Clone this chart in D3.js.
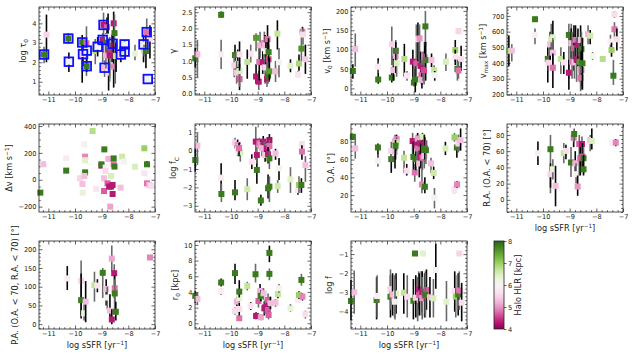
<!DOCTYPE html>
<html><head><meta charset="utf-8">
<script src="https://cdn.jsdelivr.net/npm/d3@7"></script>
<style>body{margin:0;background:#fff}svg{display:block}text{font-family:"DejaVu Sans",sans-serif}</style>
</head><body><svg id="c" width="634" height="357"></svg>
<script>
// rows: [log sSFR, value, lower bound, upper bound, halo HLR (kpc)] ; tau0 has extra flag (1 = highlighted subsample)
const xTicks = [-11, -10, -9, -8, -7];
const hlrTicks = [4, 5, 6, 7, 8];
const tau0 = [
[-11.07,3.42,2.0,4.45,5.5,0],[-11.16,2.4,1.95,2.8,7.8,1],[-10.23,2.03,1.5,2.5,6.0,1],[-10.25,3.22,2.95,3.5,7.8,1],
[-9.73,3.02,0.95,3.4,7.8,1],[-9.57,2.98,1.3,3.85,4.8,0],[-9.7,2.42,1.8,2.9,5.5,1],[-9.56,2.6,2.2,3.0,6.0,1],
[-9.56,1.8,1.5,2.2,7.8,1],[-9.24,2.58,1.9,3.2,6.8,0],[-9.15,2.8,2.3,3.3,6.0,1],[-8.93,3.92,2.2,4.55,4.3,1],
[-8.8,3.8,3.2,4.3,4.7,0],[-8.96,3.15,2.0,3.5,4.3,1],[-8.84,3.05,2.4,3.5,7.8,0],[-8.89,1.72,1.25,2.1,5.3,1],
[-8.74,1.47,0.55,2.3,5.7,0],[-8.84,2.35,1.7,2.9,5.2,0],[-8.76,3.32,2.8,4.5,6.0,0],[-8.59,2.95,2.3,3.5,6.0,1],
[-8.61,2.85,2.0,3.4,4.2,0],[-8.7,2.55,1.0,3.0,4.4,0],[-8.55,4.0,2.5,4.6,4.3,0],[-8.52,3.5,2.8,4.45,7.8,0],
[-8.55,1.78,0.7,2.5,4.9,0],[-8.49,2.35,0.9,3.1,7.8,0],[-8.46,2.32,1.5,3.0,6.6,0],[-8.7,2.35,1.2,3.3,4.3,0],
[-8.28,2.4,2.0,2.8,5.5,1],[-8.14,2.55,2.2,2.9,6.5,1],[-8.14,2.92,2.6,3.1,6.0,1],[-7.75,2.45,2.1,2.9,6.3,0],
[-7.43,2.92,2.0,3.4,6.0,1],[-7.41,2.62,2.3,2.9,6.7,0],[-7.34,2.58,1.7,3.5,7.8,0],[-7.31,3.55,2.6,4.25,4.8,1],
[-7.19,3.22,2.2,3.9,5.6,0],[-7.27,1.14,1.0,1.3,6.0,1]];
const gamma = [
[-11.34,1.08,0.8,1.4,7.8],[-11.26,1.2,0.5,1.65,5.3],[-10.37,2.42,2.33,2.52,7.8],[-10.37,1.2,0.75,1.65,5.9],
[-9.85,1.18,0.6,1.5,7.8],[-9.88,0.86,0.5,1.2,5.5],[-9.75,0.91,0.55,1.35,6.2],[-9.79,0.64,0.3,1.0,5.4],
[-9.68,0.44,0.1,0.9,4.7],[-9.68,0.69,0.2,1.1,6.5],[-9.68,1.2,0.7,1.6,5.6],[-9.26,1.22,0.95,1.5,5.7],
[-9.39,0.97,0.45,1.35,6.7],[-9.06,1.71,1.3,1.85,7.5],[-9.06,0.52,0.3,0.9,4.3],[-8.96,0.36,0.1,0.7,4.3],
[-8.94,0.97,0.4,1.5,4.8],[-8.91,1.48,1.1,1.9,5.2],[-8.81,0.96,0.6,1.3,4.3],[-8.75,1.55,1.1,1.9,4.8],
[-8.72,1.48,1.2,1.8,5.3],[-8.72,0.8,0.3,1.2,5.6],[-8.69,1.3,0.9,1.7,6.0],[-8.65,0.44,0.2,1.1,4.3],
[-8.63,1.67,1.2,2.1,4.8],[-8.59,1.05,0.7,1.5,4.6],[-8.59,1.27,0.8,1.7,7.8],[-8.61,0.55,0.3,1.0,7.8],
[-8.56,0.68,0.4,1.1,7.5],[-8.33,0.68,0.35,1.0,5.3],[-8.26,1.84,1.35,2.25,6.7],[-8.2,0.96,0.5,1.4,6.0],
[-7.77,0.85,0.65,1.05,6.4],[-7.49,0.58,0.5,0.7,5.7],[-7.45,0.92,0.7,1.2,6.9],[-7.36,1.38,1.0,1.75,7.6],
[-7.32,1.9,1.75,2.05,4.9],[-7.3,1.81,1.5,2.0,5.6],[-7.21,1.05,0.6,1.5,5.4]];
const v0 = [
[-11.28,45,25,62,7.8],[-11.19,101,56,142,5.3],[-10.33,23,12,78,7.8],[-10.34,56,40,70,5.8],
[-9.82,28,15,55,7.8],[-9.82,114,60,160,5.5],[-9.76,47,20,85,5.3],[-9.67,84,45,125,5.2],
[-9.67,97,40,120,7.8],[-9.64,65,30,105,6.5],[-9.35,76,30,115,6.8],[-9.25,33,20,45,5.7],
[-9.03,69,20,100,4.3],[-8.99,15,5,50,7.8],[-8.94,23,-10,60,7.8],[-8.9,65,30,165,4.7],
[-8.84,127,70,170,5.7],[-8.78,129,60,165,5.0],[-8.74,58,20,95,4.3],[-8.71,34,10,75,4.8],
[-8.69,22,0,40,5.2],[-8.65,52,20,95,4.3],[-8.59,80,40,120,4.8],[-8.56,160,110,200,7.8],
[-8.55,73,20,120,7.8],[-8.61,47,10,90,4.6],[-8.33,73,55,90,5.3],[-8.23,47,30,60,6.7],
[-8.21,34,20,45,6.0],[-7.79,69,45,90,6.5],[-7.44,99,70,125,7.0],[-7.36,50,20,80,7.8],
[-7.44,82,60,100,5.7],[-7.32,148,140,155,5.5],[-7.22,76,45,110,5.6],[-7.32,46,25,70,4.8]];
const vmax = [
[-11.28,477,380,575,6.8],[-11.17,479,410,520,5.3],[-10.3,679,665,695,7.8],[-10.3,579,520,620,5.9],
[-9.82,426,275,500,7.8],[-9.8,402,350,450,5.5],[-9.73,519,420,600,5.3],[-9.69,551,450,650,6.6],
[-9.63,564,480,670,6.4],[-9.63,466,380,560,5.3],[-9.63,370,240,460,4.8],[-9.33,426,330,500,6.7],
[-9.22,404,330,470,5.7],[-9.03,579,300,650,7.8],[-9.03,338,230,420,4.3],[-8.94,564,430,650,7.8],
[-8.94,526,400,620,5.3],[-8.91,408,300,600,4.8],[-8.84,494,350,640,4.7],[-8.82,404,300,500,5.3],
[-8.78,547,400,640,4.8],[-8.74,423,280,560,4.3],[-8.69,515,380,620,4.3],[-8.63,408,280,540,7.5],
[-8.59,547,400,640,5.3],[-8.56,489,230,600,7.8],[-8.56,355,250,480,4.8],[-8.59,306,220,420,4.8],
[-8.52,398,230,560,7.8],[-8.31,583,520,640,5.2],[-8.23,574,520,610,6.6],[-8.14,445,420,470,6.0],
[-7.76,426,410,440,6.8],[-7.47,536,490,580,5.9],[-7.43,483,440,530,7.0],[-7.36,319,260,420,7.8],
[-7.32,711,690,730,5.6],[-7.32,615,560,660,4.8],[-7.23,551,480,620,5.6]];
const dv = [
[-11.3,-96,-105,-88,7.8],[-11.19,115,95,135,5.3],[-10.33,68,60,76,7.8],[-10.33,160,152,168,5.8],
[-9.81,11,-5,25,5.5],[-9.72,-32,-40,-24,5.3],[-9.71,-96,-104,-88,6.3],[-9.65,264,256,272,5.9],
[-9.62,172,164,180,4.9],[-9.62,145,137,153,6.4],[-9.62,55,47,63,7.8],[-9.65,28,20,36,5.3],
[-9.34,363,340,385,6.8],[-9.21,-69,-77,-61,5.7],[-8.9,226,218,234,7.8],[-9.01,105,97,113,4.3],
[-9.01,115,107,123,7.8],[-8.85,90,82,98,6.0],[-8.91,11,3,19,5.3],[-8.85,65,57,73,5.6],
[-8.91,-84,-92,-76,4.7],[-8.75,155,147,163,5.2],[-8.78,-27,-35,-19,4.7],[-8.72,-51,-59,-43,4.3],
[-8.65,-51,-59,-43,4.3],[-8.59,-39,-47,-31,4.3],[-8.55,115,107,123,4.8],[-8.55,159,151,167,7.8],
[-8.59,-106,-114,-98,4.3],[-8.68,-200,-208,-192,5.1],[-8.65,28,20,36,6.5],[-8.52,98,90,106,7.8],
[-8.29,-59,-67,-51,5.3],[-8.23,172,164,180,6.6],[-8.16,135,127,143,6.0],[-7.75,97,89,105,6.5],
[-7.4,234,226,242,7.0],[-7.4,48,40,56,5.7],[-7.3,115,95,140,7.8],[-7.3,-27,-35,-19,4.8],
[-7.21,-39,-55,-25,5.3],[-7.14,-46,-54,-38,5.6]];
const logfc = [
[-11.34,-0.51,-1.15,0.13,7.8],[-11.26,0.27,-0.78,0.95,5.3],[-10.37,-1.47,-2.42,-0.69,5.8],[-10.36,-2.36,-2.8,-1.8,7.8],
[-9.85,-2.27,-2.7,-1.6,7.8],[-9.85,0.44,0.1,0.7,5.5],[-9.75,0.31,0.0,0.6,5.0],[-9.75,0.04,-0.3,0.3,6.3],
[-9.68,0.18,-0.2,0.45,5.6],[-9.65,-0.09,-0.6,0.3,6.5],[-9.7,0.13,-0.3,0.4,4.8],[-9.39,-2.1,-2.7,-1.5,6.6],
[-9.22,-0.6,-1.0,-0.2,5.6],[-9.07,0.49,-0.5,1.3,4.3],[-9.03,-1.05,-1.8,-0.2,7.8],[-9.03,-0.24,-0.7,0.2,4.3],
[-8.88,-2.71,-3.0,-2.4,7.8],[-8.94,0.4,0.1,0.7,4.8],[-8.88,0.31,0.0,0.6,5.0],[-8.84,0.13,-0.3,0.5,5.2],
[-8.79,0.49,0.2,0.8,4.3],[-8.75,0.13,-0.2,0.5,5.2],[-8.72,-0.24,-0.6,0.1,5.4],[-8.66,0.13,-0.3,0.5,4.3],
[-8.56,0.58,0.3,0.9,4.2],[-8.56,0.25,-0.2,0.6,4.8],[-8.61,-0.2,-0.7,0.2,4.3],[-8.56,-0.42,-1.0,0.0,7.8],
[-8.61,-2.05,-2.6,-1.3,7.8],[-8.56,-1.96,-2.8,-1.4,7.8],[-8.33,-0.15,-0.5,0.1,5.3],[-8.25,-1.93,-2.3,-1.6,6.6],
[-8.2,-0.96,-1.6,-0.4,6.0],[-7.77,-1.56,-2.3,-0.9,6.4],[-7.49,-2.15,-2.4,-1.9,5.7],[-7.45,-1.87,-2.3,-1.4,7.0],
[-7.36,-1.87,-2.3,-1.5,7.8],[-7.34,0.35,0.15,0.5,5.6],[-7.34,-0.05,-0.5,0.3,4.8],[-7.21,-0.78,-1.7,-0.3,5.3]];
const oa = [
[-11.28,85.6,82,88,7.8],[-11.19,72.5,61,84,5.3],[-10.34,73.6,62,78,7.8],[-10.34,58.6,52,66,5.9],
[-9.84,60.5,45,72,7.8],[-9.84,69.5,58,80,5.5],[-9.7,68.75,50,80,5.3],[-9.7,80.7,65,88,5.2],
[-9.64,83,75,88,4.9],[-9.64,79.3,70,85,6.6],[-9.68,75.5,60,82,7.8],[-9.36,62,45,70,6.7],
[-9.26,47.4,42,55,5.6],[-9.04,80.8,65,90,4.3],[-9.01,63,45,80,7.8],[-8.96,45.5,35,55,4.8],
[-8.92,60.5,48,72,7.8],[-8.89,76.3,60,88,4.3],[-8.85,83.75,70,90,5.1],[-8.85,72.5,58,82,4.8],
[-8.79,55.6,40,70,5.3],[-8.75,78,65,88,4.3],[-8.73,63,50,78,4.3],[-8.69,32,22,50,4.9],
[-8.67,85.6,78,90,6.5],[-8.67,62,48,75,4.8],[-8.6,78,68,88,4.3],[-8.6,64,50,75,5.3],
[-8.58,72.5,60,85,7.8],[-8.54,70.6,55,82,7.8],[-8.58,29.4,22,40,7.8],[-8.35,55.6,45,62,5.3],
[-8.25,45,38,52,6.6],[-8.22,17,5,28,6.0],[-7.81,72.5,65,80,6.5],[-7.47,84.9,80,90,7.0],
[-7.38,73.6,62,80,7.8],[-7.47,25.6,22,30,5.7],[-7.37,32,28,36,4.9],[-7.32,78,68,88,5.5],[-7.24,81.9,70,95,5.3]];
const ra = [
[-10.19,57.4,43,72,5.9],[-9.72,62.4,8,80,7.8],[-9.72,31.6,15,45,5.5],[-9.63,37.7,25,50,6.3],
[-9.53,17.2,-8,42,5.3],[-9.22,57.4,45,70,6.7],[-9.14,60.3,50,68,5.6],[-8.95,46,28,65,7.8],
[-8.85,76.7,65,85,4.8],[-8.83,81.2,70,88,7.8],[-8.79,45.1,30,60,5.2],[-8.76,31.6,20,45,6.0],
[-8.7,16.4,5,30,5.0],[-8.64,68.9,30,80,4.7],[-8.6,51.3,30,70,4.7],[-8.54,68.9,40,78,4.3],
[-8.52,53.3,35,70,4.7],[-8.48,51.3,32,65,7.8],[-8.48,37.7,30,55,7.8],[-8.23,73.8,60,80,5.3],
[-8.17,72.6,62,88,6.5],[-7.42,70.6,68,73,5.9],[-7.27,70.6,66,75,4.9]];
const pa = [
[-10.29,122,91,155,5.9],[-9.77,116,25,170,5.5],[-9.77,64,15,135,7.8],[-9.66,29,10,60,6.3],
[-9.6,60,5,115,5.3],[-9.27,104,60,140,6.7],[-9.16,103,85,120,5.7],[-8.96,137,70,150,7.8],
[-8.83,94,50,120,5.3],[-8.79,71,40,100,6.0],[-8.69,36,15,80,5.3],[-8.62,175,140,210,5.1],
[-8.62,12.5,0,40,4.3],[-8.53,136,70,160,4.3],[-8.51,96,40,130,4.8],[-8.51,82,40,120,7.8],
[-8.47,33,10,60,7.8],[-7.19,178,174,182,4.9]];
const r0 = [
[-11.34,3.5,2.6,4.1,7.8],[-11.26,3.1,2.3,3.6,5.3],[-10.37,5.2,4.7,5.7,7.8],[-10.37,4.1,3.6,4.5,5.9],
[-9.85,6.4,5.0,7.6,7.8],[-9.85,1.57,1.1,2.0,5.6],[-9.78,2.77,2.2,3.4,5.2],[-9.69,3.2,2.7,3.7,6.3],
[-9.69,4.04,3.3,5.5,7.8],[-9.69,0.64,0.3,1.0,4.8],[-9.69,1.83,1.0,2.6,5.6],[-9.39,4.77,4.2,5.3,6.7],
[-9.26,2.2,1.7,2.7,5.7],[-9.08,6.26,5.2,7.6,7.8],[-9.06,0.94,0.5,1.4,4.3],[-8.97,2.85,2.0,3.8,4.7],
[-8.91,4.13,3.3,5.0,5.2],[-8.88,0.77,0.4,1.2,5.1],[-8.88,3.5,2.8,4.2,7.8],[-8.78,3.83,3.0,4.5,5.3],
[-8.75,1.91,1.0,2.8,4.3],[-8.72,2.04,1.2,3.0,4.3],[-8.65,2.13,1.3,3.0,4.3],[-8.61,2.98,2.0,3.8,4.7],
[-8.61,1.7,1.0,2.4,4.7],[-8.59,1.06,0.5,1.6,4.7],[-8.56,8.98,7.8,9.9,7.8],[-8.56,6.3,5.5,7.0,7.8],
[-8.52,2.55,1.8,3.4,5.3],[-8.33,2.64,2.1,3.1,5.3],[-8.24,3.74,3.2,4.2,6.7],[-8.2,4.47,3.9,5.0,6.0],
[-7.77,1.91,1.5,2.4,6.3],[-7.49,2.98,2.6,3.4,5.8],[-7.45,3.6,3.1,4.1,7.0],[-7.36,5.53,4.8,6.3,7.8],
[-7.32,3.4,2.9,3.8,4.9],[-7.21,1.15,0.6,1.6,5.6]];
const logf = [
[-11.35,-3.44,-4.45,-2.35,7.8],[-11.23,-2.99,-4.1,-1.85,5.3],[-10.39,-3.39,-4.4,-2.2,7.8],[-10.37,-3.18,-4.3,-2.1,5.9],
[-9.87,-3.22,-4.3,-2.1,7.8],[-9.87,-2.82,-3.9,-1.8,5.5],[-9.79,-3.1,-4.2,-2.0,5.2],[-9.72,-3.3,-4.3,-2.1,5.3],
[-9.66,-3.05,-4.1,-2.0,6.4],[-9.7,-3.48,-4.4,-2.3,6.0],[-9.37,-3.01,-4.1,-2.0,6.7],[-9.24,-3.22,-4.3,-2.1,5.6],
[-9.01,-3.43,-4.4,-2.3,7.8],[-8.95,-0.97,-1.05,-0.9,7.8],[-8.65,-0.97,-1.05,-0.9,6.4],[-8.85,-3.39,-4.5,-2.2,5.3],
[-8.92,-3.27,-4.3,-2.1,5.5],[-8.81,-2.84,-3.9,-1.9,4.3],[-8.79,-3.13,-4.2,-2.0,4.7],[-8.72,-3.05,-4.2,-1.9,4.7],
[-8.68,-2.96,-4.0,-1.9,4.3],[-8.68,-3.3,-4.4,-2.2,5.0],[-8.59,-3.18,-4.3,-2.0,4.7],[-8.56,-3.05,-4.1,-1.9,4.3],
[-8.52,-2.87,-3.9,-1.8,4.7],[-8.56,-3.13,-4.3,-2.0,7.8],[-8.39,-3.25,-4.3,-2.2,5.3],[-8.26,-3.3,-4.3,-2.3,6.5],
[-8.17,-1.83,-2.8,-0.45,6.0],[-7.77,-3.48,-4.5,-2.4,6.4],[-7.46,-2.92,-4.0,-1.9,5.7],[-7.42,-3.22,-4.3,-2.1,7.0],
[-7.33,-3.1,-4.2,-2.0,7.8],[-7.29,-2.9,-3.9,-1.9,4.8],[-7.2,-3.53,-4.5,-2.5,5.6],[-7.29,-0.97,-1.05,-0.9,5.5]];

const panels = [
 {data:tau0, col:0,row:0, yDom:[0.32,4.84], yTicks:[1,2,3,4], yMinor:0.2, fmt:"d", label:[["log τ",""],["0","sub"]]},
 {data:gamma,col:1,row:0, yDom:[-0.05,2.66], yTicks:[0,0.5,1,1.5,2,2.5], yMinor:0.1, fmt:".1f", label:[["γ",""]]},
 {data:v0,   col:2,row:0, yDom:[-17,210], yTicks:[0,50,100,150,200], yMinor:10, fmt:"d", label:[["v",""],["0","sub"],[" [km s",""],["−1","sup"],["]",""]]},
 {data:vmax, col:3,row:0, yDom:[196,757], yTicks:[200,300,400,500,600,700], yMinor:20, fmt:"d", label:[["v",""],["max","sub"],[" [km s",""],["−1","sup"],["]",""]]},
 {data:dv,   col:0,row:1, yDom:[-240,415], yTicks:[-200,0,200,400], yMinor:50, fmt:"d", label:[["Δv [km s",""],["−1","sup"],["]",""]]},
 {data:logfc,col:1,row:1, yDom:[-3.34,1.45], yTicks:[-3,-2,-1,0,1], yMinor:0.2, fmt:"d", label:[["log f",""],["C","sub"]]},
 {data:oa,   col:2,row:1, yDom:[1,100], yTicks:[20,40,60,80], yMinor:5, fmt:"d", label:[["O.A. [°]",""]]},
 {data:ra,   col:3,row:1, yDom:[-15,93.5], yTicks:[0,20,40,60,80], yMinor:5, fmt:"d", label:[["R.A. (O.A. < 70) [°]",""]], xlab:true},
 {data:pa,   col:0,row:2, yDom:[-13,222], yTicks:[0,50,100,150,200], yMinor:10, fmt:"d", label:[["P.A. (O.A. < 70, R.A. < 70) [°]",""]], xlab:true},
 {data:r0,   col:1,row:2, yDom:[-0.73,10.5], yTicks:[0,2,4,6,8,10], yMinor:0.5, fmt:"d", label:[["r",""],["0","sub"],[" [kpc]",""]], xlab:true},
 {data:logf, col:2,row:2, yDom:[-4.9,-0.32], yTicks:[-4,-3,-2,-1], yMinor:0.2, fmt:"d", label:[["log f",""]], xlab:true}
];

const svg = d3.select("#c");
const colLeft=[39,195,351,507], rowTop=[7,124,241], W=116, H=88;
const xDom=[-11.35,-7.0];
const tickFS=6.6, labFS=8.2, ink="#222";
const color = d3.scaleSequential(d3.interpolatePiYG).domain([4,8]);

function minorVals(dom, step, majors){
  const lo=Math.min(...dom), hi=Math.max(...dom), out=[];
  for(let k=Math.ceil(lo/step-1e-9); k*step<=hi+1e-9; k++){
    const v=+(k*step).toFixed(6);
    if(!majors.some(m=>Math.abs(m-v)<1e-6)) out.push(v);
  }
  return out;
}
function addRich(t, segs, fs){
  let shift=0;
  segs.forEach(([s,m])=>{
    const target = m==="sub"? fs*0.28 : m==="sup" ? -fs*0.38 : 0;
    const ts=t.append("tspan").text(s).attr("dy", target-shift);
    if(m) ts.attr("font-size", fs*0.7);
    shift=target;
  });
}
function styleAxis(g){
  g.select(".domain").remove();
  g.selectAll("line").attr("stroke",ink).attr("stroke-width",0.7);
  g.selectAll("text").attr("font-size",tickFS).attr("fill",ink).attr("font-family","DejaVu Sans");
}

panels.forEach(p=>{
  const g=svg.append("g").attr("transform",`translate(${colLeft[p.col]},${rowTop[p.row]})`);
  const x=d3.scaleLinear().domain(xDom).range([0,W]);
  const y=d3.scaleLinear().domain(p.yDom).range([H,0]);
  const xMin=minorVals(xDom,0.2,xTicks), yMin=minorVals(p.yDom,p.yMinor,p.yTicks);
  const f=d3.format(p.fmt);
  // axes (inward ticks on all sides)
  g.append("g").attr("transform",`translate(0,${H})`).call(d3.axisBottom(x).tickValues(xTicks).tickSize(-3.5).tickPadding(2.5).tickFormat(d3.format("d"))).call(styleAxis);
  g.append("g").attr("transform",`translate(0,${H})`).call(d3.axisBottom(x).tickValues(xMin).tickSize(-1.8).tickFormat("")).call(styleAxis);
  g.append("g").call(d3.axisTop(x).tickValues(xTicks).tickSize(-3.5).tickFormat("")).call(styleAxis);
  g.append("g").call(d3.axisTop(x).tickValues(xMin).tickSize(-1.8).tickFormat("")).call(styleAxis);
  const ya=g.append("g").call(d3.axisLeft(y).tickValues(p.yTicks).tickSize(-3.5).tickPadding(2.5).tickFormat(f)).call(styleAxis);
  g.append("g").call(d3.axisLeft(y).tickValues(yMin).tickSize(-1.8).tickFormat("")).call(styleAxis);
  g.append("g").attr("transform",`translate(${W},0)`).call(d3.axisRight(y).tickValues(p.yTicks).tickSize(-3.5).tickFormat("")).call(styleAxis);
  g.append("g").attr("transform",`translate(${W},0)`).call(d3.axisRight(y).tickValues(yMin).tickSize(-1.8).tickFormat("")).call(styleAxis);
  // data
  const clip=g.append("g");
  p.data.forEach((d,i)=>{
    clip.append("line").attr("x1",x(d[0])).attr("x2",x(d[0]))
      .attr("y1",y(Math.max(d[2],p.yDom[0]))).attr("y2",y(Math.min(d[3],p.yDom[1])))
      .attr("stroke", i%2 ? "#6a6a6a" : "#050505").attr("stroke-width",1.6);
    clip.append("rect").attr("x",x(d[0])-3).attr("y",y(d[1])-3).attr("width",6).attr("height",6)
      .attr("fill",color(d[4]));
  });
  if(p.data===tau0){
    p.data.filter(d=>d[5]===1).forEach(d=>{
      clip.append("rect").attr("x",x(d[0])-4.3).attr("y",y(d[1])-4.3).attr("width",8.6).attr("height",8.6)
        .attr("fill","none").attr("stroke","#1010ff").attr("stroke-width",1.8);
    });
  }
  g.append("rect").attr("width",W).attr("height",H).attr("fill","none").attr("stroke",ink).attr("stroke-width",0.8);
  // y label
  const maxW=d3.max(ya.selectAll("text").nodes(),n=>n.getComputedTextLength());
  const cx=-(2.5+maxW+3+0.4*labFS);
  const t=g.append("text").attr("transform",`translate(${cx},${H/2}) rotate(-90)`).attr("text-anchor","middle")
    .attr("font-size",labFS).attr("fill",ink).attr("dy","0.35em");
  const inner=t.append("tspan").attr("dy",0);
  addRich(t,p.label,labFS);
  if(p.xlab){
    const tx=g.append("text").attr("x",W/2).attr("y",H+19).attr("text-anchor","middle").attr("font-size",labFS).attr("fill",ink);
    addRich(tx,[["log sSFR [yr",""],["−1","sup"],["]",""]],labFS);
  }
});

// colorbar
const cb=svg.append("g").attr("transform","translate(494,241)");
const cbH=88, cbW=10;
const grad=svg.append("defs").append("linearGradient").attr("id","gr").attr("x1",0).attr("y1",1).attr("x2",0).attr("y2",0);
d3.range(0,1.0001,0.05).forEach(t=>grad.append("stop").attr("offset",t).attr("stop-color",d3.interpolatePiYG(t)));
cb.append("rect").attr("width",cbW).attr("height",cbH).attr("fill","url(#gr)").attr("stroke",ink).attr("stroke-width",0.8);
const cs=d3.scaleLinear().domain([4,8]).range([cbH,0]);
cb.append("g").attr("transform",`translate(${cbW},0)`).call(d3.axisRight(cs).tickValues(hlrTicks).tickSize(2.5).tickPadding(1.5).tickFormat(d3.format("d"))).call(styleAxis);
cb.append("text").attr("transform",`translate(24,${cbH/2}) rotate(-90)`).attr("text-anchor","middle").attr("dy","0.35em")
  .attr("font-size",labFS).attr("fill",ink).text("Halo HLR [kpc]");
</script></body></html>
